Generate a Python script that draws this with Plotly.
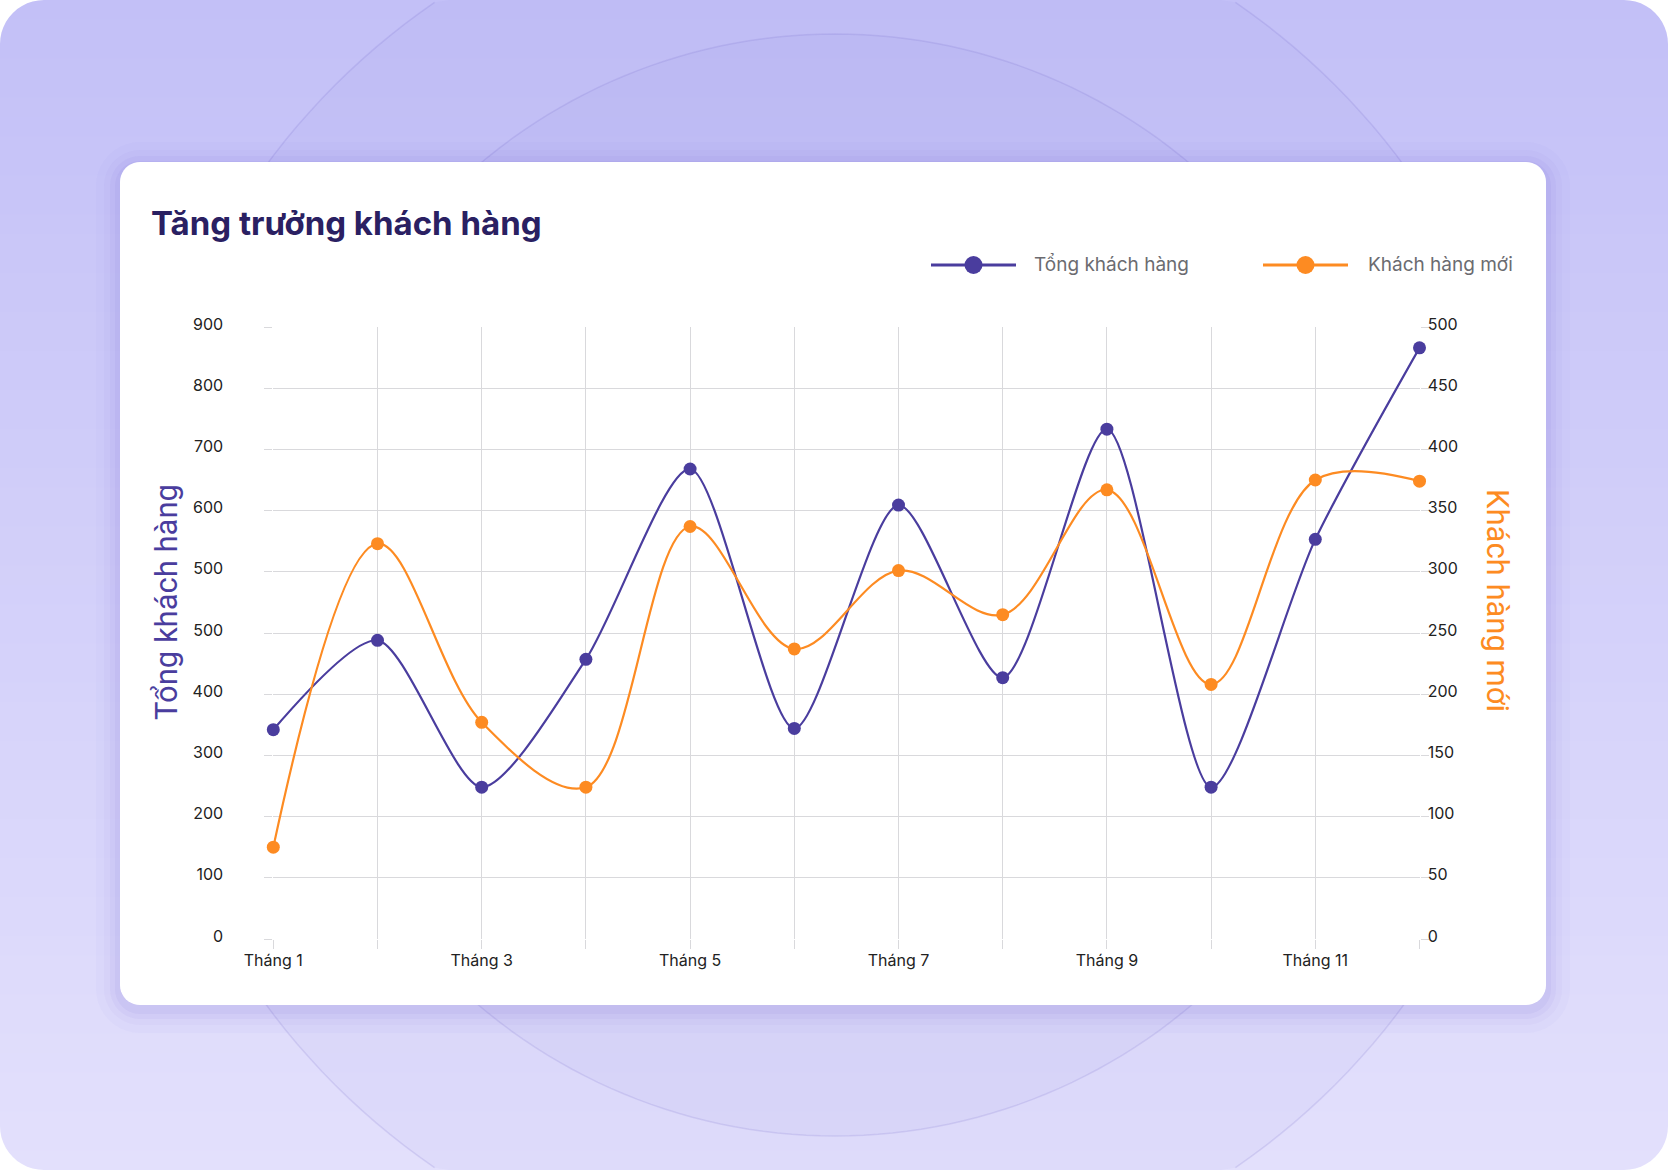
import math
import plotly.graph_objects as go

# ---------------- data ----------------
months = ["Tháng 1", "Tháng 2", "Tháng 3", "Tháng 4", "Tháng 5", "Tháng 6",
          "Tháng 7", "Tháng 8", "Tháng 9", "Tháng 10", "Tháng 11", "Tháng 12"]
month_labels = ["Tháng 1", "", "Tháng 3", "", "Tháng 5", "", "Tháng 7", "",
                "Tháng 9", "", "Tháng 11", ""]
# left-axis positions (grid lines every 100)
tong_khach_hang = [342, 488, 248, 457, 768, 344, 709, 427, 833, 248, 653, 966]
khach_hang_moi = [75, 323, 177, 124, 337, 237, 301, 265, 367, 208, 375, 374]
left_tickvals = [0, 100, 200, 300, 400, 500, 600, 700, 800, 900, 1000]
left_ticktext = ["0", "100", "200", "300", "400", "500", "500", "600", "700", "800", "900"]
right_tickvals = [0, 50, 100, 150, 200, 250, 300, 350, 400, 450, 500]

W, H = 1668, 1170
PURPLE = "#4a3d9e"
ORANGE = "#fd8b22"
GRID = "#d9d9dc"


def cl(v, lo, hi):
    return max(lo, min(hi, v))


def fx(x):
    return cl(x / W, 0.0, 1.0)


def fy(y):
    return cl(1 - y / H, 0.0, 1.0)


def P(p):
    return f"{fx(p[0]):.6f},{fy(p[1]):.6f}"


def poly_path(pts, close=True):
    s = "M" + P(pts[0]) + "".join("L" + P(p) for p in pts[1:])
    return s + ("Z" if close else "")


def rrect_pts(x0, y0, x1, y1, r, n=10):
    pts = []
    corners = [(x1 - r, y0 + r, -90), (x1 - r, y1 - r, 0), (x0 + r, y1 - r, 90), (x0 + r, y0 + r, 180)]
    for cx, cy, a0 in corners:
        for i in range(n + 1):
            a = math.radians(a0 + 90 * i / n)
            pts.append((cx + r * math.cos(a), cy + r * math.sin(a)))
    return pts


def hexmix(c1, c2, t):
    a = [int(c1[i:i + 2], 16) for i in (1, 3, 5)]
    b = [int(c2[i:i + 2], 16) for i in (1, 3, 5)]
    return "#" + "".join(f"{round(a[i] + (b[i] - a[i]) * t):02x}" for i in range(3))


shapes = []
# background gradient
n = 60
top_c, bot_c = "#c3c0f7", "#e3e0fc"
for i in range(n):
    y0 = 1 - i / n
    y1 = max(0.0, 1 - (i + 1) / n - 0.002)
    shapes.append(dict(type="rect", xref="paper", yref="paper", layer="below",
                       x0=0, x1=1, y0=y1, y1=y0,
                       fillcolor=hexmix(top_c, bot_c, i / (n - 1)), line_width=0))
# decorative circles (clamped to the page)
ccx, ccy = 835, 585
for r in (707, 551):
    pts = [(ccx + r * math.cos(2 * math.pi * k / 240), ccy + r * math.sin(2 * math.pi * k / 240))
           for k in range(240)]
    shapes.append(dict(type="path", xref="paper", yref="paper", layer="below",
                       path=poly_path(pts), fillcolor="rgba(90,80,190,0.035)", line_width=0))
    runs, cur = [], []
    for k in range(241):
        p = pts[k % 240]
        if 1 <= p[1] <= H - 1 and 1 <= p[0] <= W - 1:
            cur.append(p)
        elif cur:
            runs.append(cur)
            cur = []
    if cur:
        runs.append(cur)
    for run in runs:
        if len(run) > 1:
            shapes.append(dict(type="path", xref="paper", yref="paper", layer="below",
                               path=poly_path(run, close=False),
                               line=dict(color="rgba(110,100,200,0.16)", width=1.5)))
# rounded page corners (white outside a 44px radius)
R = 44
for (cx, cy, sx, sy) in [(0, 0, 1, 1), (W, 0, -1, 1), (0, H, 1, -1), (W, H, -1, -1)]:
    pts = [(cx - sx * 20, cy - sy * 20), (cx + sx * R, cy - sy * 20)]
    for i in range(13):
        a = math.pi / 2 * i / 12
        pts.append((cx + sx * (R - R * math.sin(a)), cy + sy * (R - R * math.cos(a))))
    pts.append((cx - sx * 20, cy + sy * R))
    shapes.append(dict(type="path", xref="paper", yref="paper", layer="below",
                       path=poly_path(pts), fillcolor="white", line_width=0))
# card shadow
cx0, cy0, cx1, cy1 = 120, 162, 1546, 1005
for g, a in [(24, 0.025), (16, 0.035), (10, 0.045), (5, 0.06)]:
    shapes.append(dict(type="path", xref="paper", yref="paper", layer="below",
                       path=poly_path(rrect_pts(cx0 - g, cy0 - g + 4, cx1 + g, cy1 + g + 4, 20 + g)),
                       fillcolor=f"rgba(100,80,210,{a})", line_width=0))
# card
shapes.append(dict(type="path", xref="paper", yref="paper", layer="below",
                   path=poly_path(rrect_pts(cx0, cy0, cx1, cy1, 20)), fillcolor="white", line_width=0))

# legend (drawn manually to match long line samples)
legend_items = [("Tổng khách hàng", PURPLE, 931, 1016, 1032),
                ("Khách hàng mới", ORANGE, 1263, 1348, 1366)]
annotations = []
LY = 265
for name, col, lx0, lx1, tx in legend_items:
    shapes.append(dict(type="line", xref="paper", yref="paper", x0=fx(lx0), x1=fx(lx1),
                       y0=fy(LY), y1=fy(LY), line=dict(color=col, width=3)))
    mx = (lx0 + lx1) / 2
    rr = 9
    shapes.append(dict(type="circle", xref="paper", yref="paper",
                       x0=fx(mx - rr), x1=fx(mx + rr), y0=fy(LY + rr), y1=fy(LY - rr),
                       fillcolor=col, line_width=0))
    annotations.append(dict(text=name, xref="paper", yref="paper", x=fx(tx), y=fy(LY),
                            xanchor="left", yanchor="middle", showarrow=False,
                            font=dict(family="Inter", size=19, color="#6b6b70")))

# title
annotations.append(dict(text="<b>Tăng trưởng khách hàng</b>", xref="paper", yref="paper",
                        x=fx(149), y=fy(223), xanchor="left", yanchor="middle",
                        showarrow=False,
                        font=dict(family="Inter", size=33, color="#2a2062")))
# axis titles
annotations.append(dict(text="Tổng khách hàng", xref="paper", yref="paper",
                        x=fx(167), y=fy(602), xanchor="center", yanchor="middle",
                        textangle=-90, showarrow=False,
                        font=dict(family="Roboto", size=31, color=PURPLE)))
annotations.append(dict(text="Khách hàng mới", xref="paper", yref="paper",
                        x=fx(1498), y=fy(600), xanchor="center", yanchor="middle",
                        textangle=90, showarrow=False,
                        font=dict(family="Roboto", size=31, color=ORANGE)))

fig = go.Figure()
fig.add_trace(go.Scatter(x=months, y=tong_khach_hang, name="Tổng khách hàng",
                         mode="lines+markers", yaxis="y", cliponaxis=False,
                         line=dict(color=PURPLE, width=2.2, shape="spline", smoothing=0.75),
                         marker=dict(color=PURPLE, size=13), hoverinfo="skip"))
fig.add_trace(go.Scatter(x=months, y=khach_hang_moi, name="Khách hàng mới",
                         mode="lines+markers", yaxis="y2", cliponaxis=False,
                         line=dict(color=ORANGE, width=2.2, shape="spline", smoothing=1.0),
                         marker=dict(color=ORANGE, size=13), hoverinfo="skip"))

tickfont = dict(family="Inter", size=16, color="#222222")
fig.update_layout(
    width=W, height=H, margin=dict(l=0, r=0, t=0, b=0, autoexpand=False),
    paper_bgcolor="white", plot_bgcolor="rgba(0,0,0,0)",
    showlegend=False, shapes=shapes, annotations=annotations,
    xaxis=dict(type="category", domain=[fx(273.3), fx(1419.5)], range=[0, 11],
               tickmode="array", tickvals=months, ticktext=month_labels,
               showgrid=True, gridcolor=GRID, gridwidth=1.2,
               ticks="outside", ticklen=9, tickcolor=GRID, tickwidth=1.2,
               ticklabelstandoff=-2, automargin=False,
               showline=False, zeroline=False, tickfont=tickfont, fixedrange=True),
    yaxis=dict(domain=[fy(939), fy(327)], range=[0, 1000], tickmode="array",
               tickvals=left_tickvals, ticktext=left_ticktext,
               showgrid=True, gridcolor=GRID, gridwidth=1.2,
               ticks="outside", ticklen=8, tickcolor=GRID, tickwidth=1.2,
               ticklabelstandoff=38, ticklabelshift=-3, automargin=False,
               showline=False, zeroline=False, tickfont=tickfont, fixedrange=True),
    yaxis2=dict(overlaying="y", side="right", range=[0, 500], tickmode="array",
                tickvals=right_tickvals, showgrid=False,
                ticks="outside", ticklen=8, tickcolor=GRID, tickwidth=1.2,
                ticklabelstandoff=-4, ticklabelshift=-3, automargin=False,
                showline=False, zeroline=False, tickfont=tickfont, fixedrange=True),
)

fig.write_html("out.html", config={"displayModeBar": False},
               post_script="document.body.style.margin='0px';")
